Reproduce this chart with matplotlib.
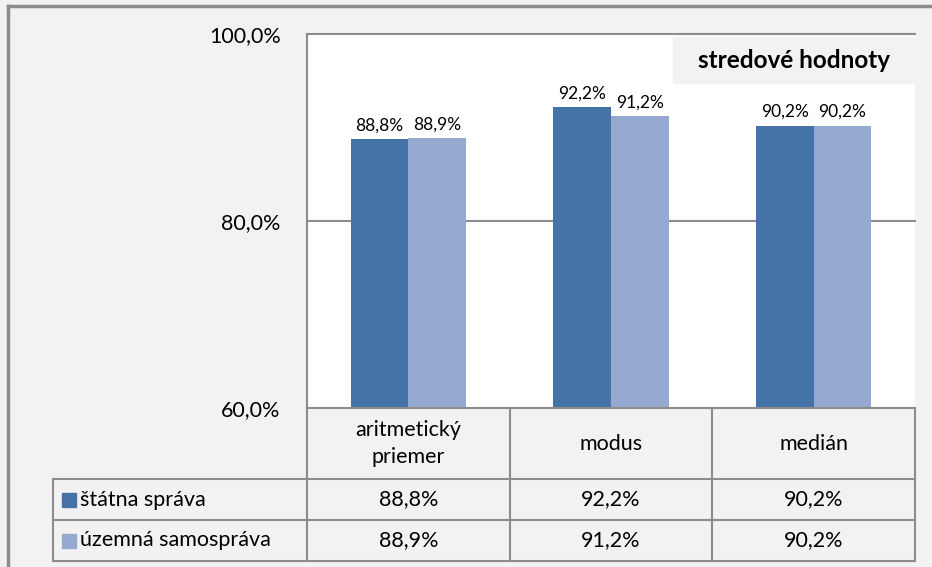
import matplotlib.pyplot as plt
import matplotlib.transforms as mtransforms
from matplotlib.lines import Line2D
from matplotlib.patches import Rectangle
import numpy as np

categories = ['aritmetický\npriemer', 'modus', 'medián']
series_names = ['štátna správa', 'územná samospráva']
statna = [88.8, 92.2, 90.2]
uzemna = [88.9, 91.2, 90.2]
y_ticks = [60, 80, 100]
title = 'stredové hodnoty'

colors = ['#4572A7', '#95A9D1']
line_gray = '#8C8C8C'
bg = '#F2F2F2'

plt.rcParams['font.family'] = ['Lato', 'DejaVu Sans']
txt_size = 15.5


def fmt(v):
    return f'{v:.1f}%'.replace('.', ',')


W, H = 932, 567
fig = plt.figure(figsize=(W / 100, H / 100), dpi=100, facecolor=bg)

# plot area in pixels
left, right, top, bottom = 307, 915, 34, 408
ax = fig.add_axes([left / W, 1 - bottom / H, (right - left) / W, (bottom - top) / H])
ax.set_facecolor('white')

x = np.arange(len(categories))
w = 0.285
series = [statna, uzemna]
for i, vals in enumerate(series):
    offs = (i - 0.5) * w
    bars = ax.bar(x + offs, vals, w, color=colors[i], zorder=2)
    for b, v in zip(bars, vals):
        ax.annotate(fmt(v), (b.get_x() + b.get_width() / 2, v), xytext=(0, 4),
                    textcoords='offset points', ha='center', va='bottom', fontsize=12.5)

ax.set_xlim(-0.5, len(categories) - 0.5)
ax.set_ylim(y_ticks[0], y_ticks[-1])
for t in y_ticks[1:]:
    ax.axhline(t, color=line_gray, lw=1.5, zorder=0.5, clip_on=False)
ax.set_yticks(y_ticks)
ax.set_yticklabels([fmt(t) for t in y_ticks], fontsize=txt_size)
ax.tick_params(axis='y', length=0, pad=19)
ax.set_xticks([])
for s in ['top', 'right', 'bottom']:
    ax.spines[s].set_visible(False)
ax.spines['left'].set_color(line_gray)
ax.spines['left'].set_linewidth(1.5)

# pixel based transforms for the data table
px = mtransforms.Affine2D().scale(1 / W, -1 / H).translate(0, 1) + fig.transFigure
colpx = mtransforms.blended_transform_factory(ax.transData, px)

row_y = [408, 479, 520, 561]
leg_left = 53


def add_line(xs, ys, tr):
    fig.add_artist(Line2D(xs, ys, transform=tr, color=line_gray, lw=1.5))


add_line([-0.5, 2.5], [row_y[0], row_y[0]], colpx)
for y in row_y[1:]:
    add_line([leg_left, right], [y, y], px)
for b in np.arange(len(categories) + 1) - 0.5:
    add_line([b, b], [row_y[0], row_y[-1]], colpx)
add_line([leg_left, leg_left], [row_y[1], row_y[-1]], px)

for xi, cat in zip(x, categories):
    fig.text(xi, (row_y[0] + row_y[1]) / 2, cat, transform=colpx, ha='center',
             va='center', fontsize=txt_size, linespacing=1.45)

for r, (name, vals) in enumerate(zip(series_names, series)):
    yc = (row_y[r + 1] + row_y[r + 2]) / 2
    fig.add_artist(Rectangle((62, yc - 7), 14, 14, transform=px, color=colors[r]))
    fig.text(80, yc, name, transform=px, ha='left', va='center', fontsize=txt_size)
    for xi, v in zip(x, vals):
        fig.text(xi, yc, fmt(v), transform=colpx, ha='center', va='center', fontsize=txt_size)

# title box
fig.add_artist(Rectangle((673, 37), right - 673, 46, transform=px, color=bg, zorder=3))
fig.text(794, 61, title, transform=px, ha='center', va='center', fontsize=17.5,
         fontweight='bold', zorder=4)

# outer frame
fig.add_artist(Line2D([8, 8], [6, H], transform=px, color=line_gray, lw=2.5))
fig.add_artist(Line2D([8, W], [6, 6], transform=px, color=line_gray, lw=2.5))

fig.savefig('out.png', dpi=100, facecolor=bg)
